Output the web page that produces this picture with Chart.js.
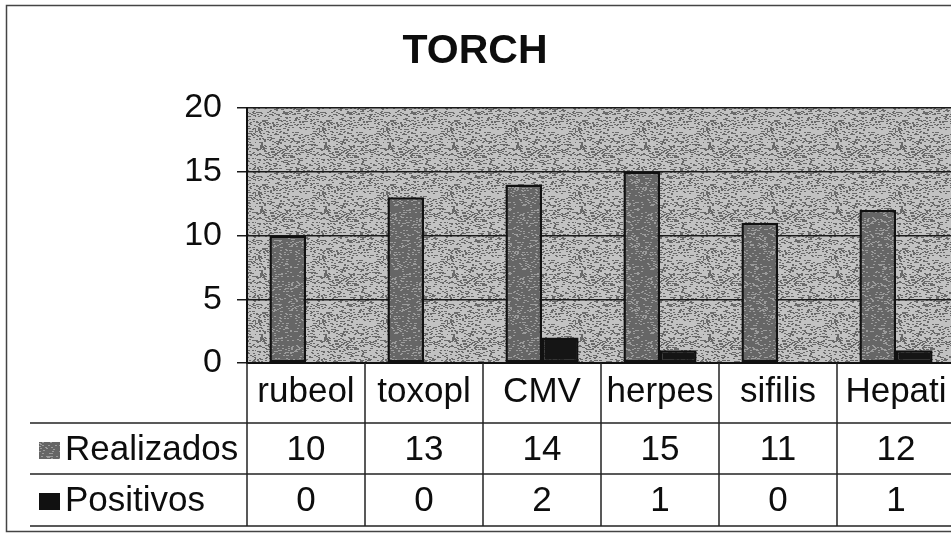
<!DOCTYPE html>
<html>
<head>
<meta charset="utf-8">
<script src="https://cdn.jsdelivr.net/npm/chart.js@4.4.1/dist/chart.umd.min.js"></script>
<style>
  html, body { margin: 0; padding: 0; background: #fff; overflow: hidden; }
  canvas { display: block; }
</style>
</head>
<body>
<canvas id="chart" width="962" height="541"></canvas>
<script>
// chart values
const categories = ['rubeol', 'toxopl', 'CMV', 'herpes', 'sifilis', 'Hepati'];
const realizados = [10, 13, 14, 15, 11, 12];
const positivos = [0, 0, 2, 1, 0, 1];
const seriesNames = ['Realizados', 'Positivos'];
const yTicks = [0, 5, 10, 15, 20];

const FONT = '"Liberation Sans", Arial, sans-serif';

// speckled fill like the scanned print (fixed seed, texture only)
function speckle(base, dot, density, seed) {
  const size = 64;
  const c = document.createElement('canvas');
  c.width = size; c.height = size;
  const g = c.getContext('2d');
  g.fillStyle = base;
  g.fillRect(0, 0, size, size);
  g.fillStyle = dot;
  let s = seed >>> 0;
  const n = Math.floor(size * size * density);
  for (let i = 0; i < n; i++) {
    s = (Math.imul(s, 1103515245) + 12345) >>> 0;
    const x = (s >>> 8) % size;
    s = (Math.imul(s, 1103515245) + 12345) >>> 0;
    const y = (s >>> 8) % size;
    g.fillRect(x, y, 2, 1);
  }
  return g.createPattern(c, 'repeat');
}

const plotFill = speckle('#c2c2c2', '#6a6a6a', 0.17, 7);
const barFill = speckle('#666666', '#9c9c9c', 0.10, 31);

// a bar of 0 leaves no mark
const borderFor = ctx => (ctx.raw === 0 ? 0 : 2.5);

// grey plot background
const plotBackground = {
  id: 'plotBackground',
  beforeDraw(chart) {
    const { ctx, chartArea: a } = chart;
    ctx.save();
    ctx.fillStyle = plotFill;
    ctx.fillRect(a.left, a.top, a.right - a.left, a.bottom - a.top);
    ctx.restore();
  }
};

// title, outer frame and the data table under the axis
const tableAndTitle = {
  id: 'tableAndTitle',
  afterDraw(chart) {
    const { ctx, chartArea: a, scales: { x } } = chart;
    const colW = (a.right - a.left) / categories.length;
    const rowLines = [423, 474, 526];
    const rowMid = [392, 450, 501];

    ctx.save();
    // frame
    ctx.strokeStyle = '#444';
    ctx.lineWidth = 1.5;
    ctx.strokeRect(6.5, 5.5, 1000, 526);

    // title
    ctx.fillStyle = '#0d0d0d';
    ctx.font = 'bold 41px ' + FONT;
    ctx.textAlign = 'center';
    ctx.textBaseline = 'middle';
    ctx.fillText('TORCH', 475, 52);

    // table lines
    ctx.strokeStyle = '#222';
    ctx.lineWidth = 1.5;
    rowLines.forEach(y => {
      ctx.beginPath();
      ctx.moveTo(30, y);
      ctx.lineTo(chart.width, y);
      ctx.stroke();
    });
    for (let i = 0; i <= categories.length; i++) {
      const xx = a.left + i * colW;
      ctx.beginPath();
      ctx.moveTo(xx, a.bottom);
      ctx.lineTo(xx, rowLines[2]);
      ctx.stroke();
    }

    // table text
    ctx.font = '35px ' + FONT;
    ctx.fillStyle = '#0d0d0d';
    ctx.textAlign = 'center';
    categories.forEach((c, i) => {
      const cx = x.getPixelForValue(i);
      ctx.fillText(c, cx, rowMid[0]);
      ctx.fillText(String(realizados[i]), cx, rowMid[1]);
      ctx.fillText(String(positivos[i]), cx, rowMid[2]);
    });

    // legend keys + series names
    const keys = [barFill, '#111'];
    seriesNames.forEach((name, r) => {
      const y = rowMid[r + 1];
      ctx.fillStyle = keys[r];
      ctx.fillRect(39, y - 8, 21, 17);
      ctx.fillStyle = '#0d0d0d';
      ctx.textAlign = 'left';
      ctx.fillText(name, 65, y);
    });
    ctx.restore();
  }
};

new Chart(document.getElementById('chart'), {
  type: 'bar',
  data: {
    labels: categories,
    datasets: [
      {
        label: seriesNames[0],
        data: realizados,
        backgroundColor: barFill,
        borderColor: '#111',
        borderWidth: borderFor,
        borderSkipped: false
      },
      {
        label: seriesNames[1],
        data: positivos,
        backgroundColor: '#151515',
        borderColor: '#111',
        borderWidth: borderFor,
        borderSkipped: false
      }
    ]
  },
  options: {
    responsive: false,
    animation: false,
    layout: { padding: { top: 108, bottom: 178, left: 0, right: 7 } },
    datasets: { bar: { categoryPercentage: 0.62, barPercentage: 1.0 } },
    plugins: {
      legend: { display: false },
      title: { display: false },
      tooltip: { enabled: false }
    },
    scales: {
      x: {
        ticks: { display: false },
        grid: { display: false, drawTicks: false },
        border: { display: true, color: '#111', width: 2 },
        afterFit(scale) { scale.height = 0; }
      },
      y: {
        min: 0,
        max: 20,
        afterBuildTicks(scale) { scale.ticks = yTicks.map(v => ({ value: v })); },
        ticks: {
          color: '#0d0d0d',
          padding: 15,
          font: { family: FONT, size: 34 }
        },
        grid: { color: '#1a1a1a', lineWidth: 1.5, tickLength: 10 },
        border: { display: true, color: '#111', width: 2 },
        afterFit(scale) { scale.width = 247; }
      }
    }
  },
  plugins: [plotBackground, tableAndTitle]
});
</script>
</body>
</html>
